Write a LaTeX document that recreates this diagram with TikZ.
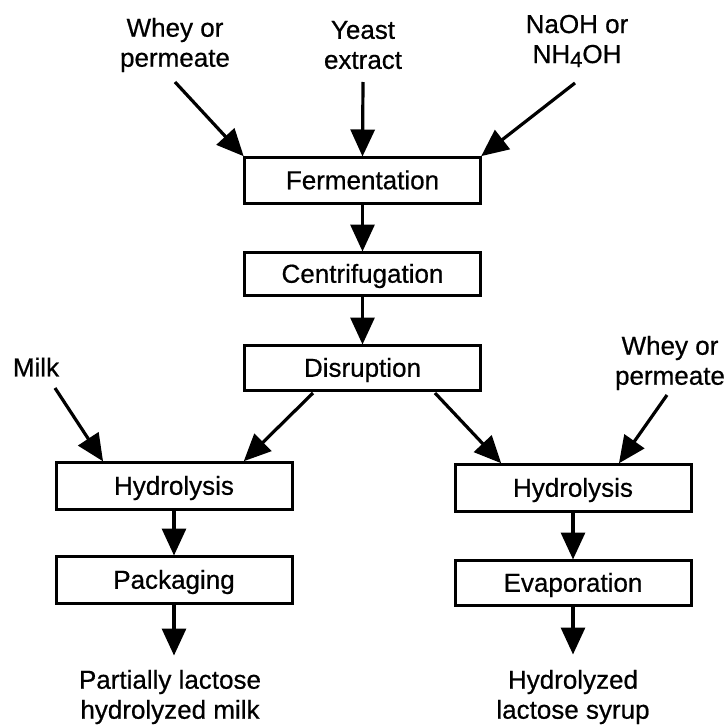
\documentclass[tikz,border=0pt]{standalone}
\usepackage{fontspec}
\setmainfont{Liberation Sans}[FakeBold=0.6]
\usetikzlibrary{arrows.meta}
\tikzset{
  procbox/.style={draw, line width=3pt, inner sep=0pt, minimum width=236pt, minimum height=46pt, text height=18.5pt, text depth=0pt, font=\fontsize{26}{30}\selectfont},
  lbl/.style={align=center, inner sep=0pt, font=\fontsize{26}{30}\selectfont},
  flow/.style={line width=3.2pt, -{Triangle[length=27pt,width=24pt]}, shorten >=-1pt}
}
\begin{document}
\begin{tikzpicture}[x=1pt,y=-1pt]
\useasboundingbox (0,0) rectangle (725,725);
% boxes
\node[procbox] (fer)  at (362.5,180)   {Fermentation};
\node[procbox, minimum height=43pt] (cen)  at (362.5,273.5) {Centrifugation};
\node[procbox, minimum height=45pt] (dis)  at (362.5,367.5) {Disruption};
\node[procbox, minimum height=47pt] (hyL)  at (174,485.5)   {Hydrolysis};
\node[procbox, minimum height=47pt] (hyR)  at (573,487.5)   {Hydrolysis};
\node[procbox, minimum height=47pt] (pack) at (174,579.5)   {Packaging};
\node[procbox, minimum height=45pt] (evap) at (573,582.5)   {Evaporation};
% labels
\node[lbl] (whey1) at (175,45) {Whey or\\permeate};
\node[lbl] (yeast) at (363,45) {Yeast\\extract};
\node[lbl] (naoh)  at (577,41) {NaOH or\\NH\raisebox{-0.3ex}{\fontsize{22}{22}\selectfont 4}OH};
\node[lbl] (milk)  at (36,367) {Milk};
\node[lbl] (whey2) at (670,363) {Whey or\\permeate};
\node[lbl] (outL)  at (170,697) {Partially lactose\\hydrolyzed milk};
\node[lbl] (outR)  at (573,697) {Hydrolyzed\\lactose syrup};
% free ends and tips
\coordinate (s1) at (175,82);
\coordinate (s2) at (363,82);
\coordinate (s3) at (575,83);
\coordinate (s4) at (55,388);
\coordinate (s5) at (313,393);
\coordinate (s6) at (435,393);
\coordinate (s7) at (667,395);
\path (hyL.north west) ++(48,0) coordinate (t4);
\path (hyL.north west) ++(190,0) coordinate (t5);
\path (hyR.north west) ++(47,0) coordinate (t6);
\path (hyR.north west) ++(166,0) coordinate (t7);
\path (pack.south) ++(0,50) coordinate (e1);
\path (evap.south) ++(0,47) coordinate (e2);
% arrows
\draw[flow] (s1) -- (fer.north west);
\draw[flow] (s2) -- (fer.north);
\draw[flow] (s3) -- (fer.north east);
\draw[flow] (fer.south) -- (cen.north);
\draw[flow] (cen.south) -- (dis.north);
\draw[flow] (s4) -- (t4);
\draw[flow] (s5) -- (t5);
\draw[flow] (s6) -- (t6);
\draw[flow] (s7) -- (t7);
\draw[flow] (hyL.south) -- (pack.north);
\draw[flow] (hyR.south) -- (evap.north);
\draw[flow] (pack.south) -- (e1);
\draw[flow] (evap.south) -- (e2);
\end{tikzpicture}
\end{document}
